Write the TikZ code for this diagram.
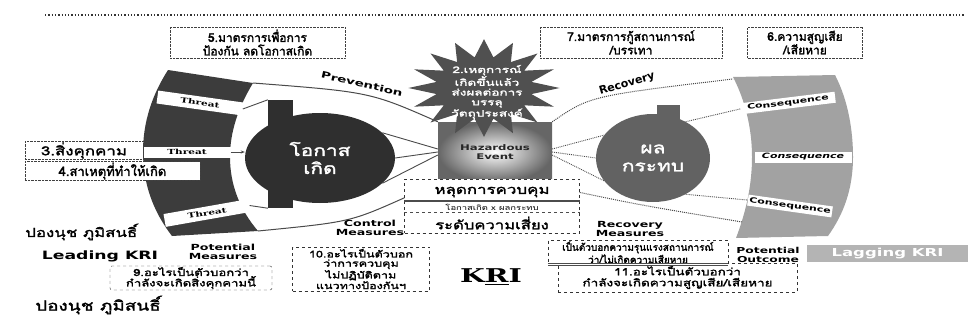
\documentclass[tikz,border=0pt]{standalone}
\usepackage{fontspec}
\setmainfont{DejaVu Sans}
\newfontfamily\thai[Script=Thai, BoldFont={Loma}, BoldFeatures={FakeBold=2}]{Loma}
\newfontfamily\thaiwide[Script=Thai, FakeStretch=1.35, BoldFont={Loma}, BoldFeatures={FakeBold=2}]{Loma}
\newfontfamily\thaistar[Script=Thai, FakeStretch=1.5, BoldFont={Loma}, BoldFeatures={FakeBold=2}]{Loma}
\newfontfamily\latwide[FakeStretch=1.5]{DejaVu Sans}
\newfontfamily\kriwide[FakeStretch=1.5]{DejaVu Serif}
\usepackage{tikz}
\usetikzlibrary{shapes.geometric, arrows.meta, positioning, calc}
\definecolor{FanDark}{HTML}{3C3C3C}
\definecolor{FanLight}{HTML}{A2A2A2}
\definecolor{OvalDark}{HTML}{2F2F2F}
\definecolor{OvalMid}{HTML}{626262}
\definecolor{StarGray}{HTML}{505050}
\definecolor{LineGray}{HTML}{4A4A4A}
\definecolor{LagGray}{HTML}{B4B4B4}
\tikzset{
  thaibox/.style={rectangle, draw=black!75, densely dotted, fill=white, inner sep=1pt, font=\thai\bfseries\fontsize{12}{13.5}\selectfont, align=center},
  notebox/.style={rectangle, draw=black!80, dashed, fill=white, inner sep=1pt, font=\thaiwide\bfseries\fontsize{9.7}{10.5}\selectfont, align=center},
  threatbar/.style={rectangle, fill=white, minimum height=13pt, inner sep=0pt, font=\kriwide\bfseries\fontsize{7}{7.5}\selectfont},
  consbar/.style={rectangle, fill=white, minimum height=11pt, inner sep=0pt, font=\latwide\bfseries\fontsize{7.3}{7.5}\selectfont},
  ovalnode/.style={ellipse, inner sep=0pt, text=white, font=\thaiwide\bfseries\fontsize{15.5}{18}\selectfont, align=center},
  notchbox/.style={rectangle, inner sep=0pt},
  hazardbox/.style={rectangle, inner color=white, outer color=black!60, inner sep=0pt, font=\latwide\bfseries\fontsize{7.8}{9}\selectfont, text=black!85, align=center},
  measurelabel/.style={font=\latwide\bfseries\fontsize{8.4}{9}\selectfont, align=center, inner sep=0pt},
  pathlabel/.style={font=\latwide\bfseries\fontsize{9}{9.5}\selectfont, inner sep=0pt},
  namelabel/.style={font=\thaiwide\bfseries\fontsize{12.5}{13}\selectfont, inner sep=0pt, anchor=west},
  bowline/.style={draw=LineGray, line width=1pt},
  linkline/.style={draw=LineGray, line width=0.9pt}
}

\begin{document}
\begin{tikzpicture}[x=1pt, y=-1pt]
  \useasboundingbox (0,0) rectangle (969,324);

  % objective line at the top
  \draw[dotted, line width=1.3pt, black!80] (45,15) -- (965,15);

  % the two fans
  \fill[FanDark] (168,70) -- (253,83) .. controls (238,108) and (230,132) .. (230,157)
    .. controls (230,185) and (240,210) .. (258,231) -- (172,236)
    .. controls (152,210) and (143,182) .. (143,152) .. controls (143,122) and (152,95) .. (168,70) -- cycle;
  \fill[FanLight] (733,77) -- (835,75) .. controls (848,100) and (853,130) .. (853,157)
    .. controls (853,190) and (843,215) .. (828,236) -- (736,238)
    .. controls (746,212) and (752,185) .. (752,157) .. controls (752,128) and (745,100) .. (733,77) -- cycle;
  \coordinate (lfTop) at (253,83);
  \coordinate (lfBot) at (258,231);
  \coordinate (rfTop) at (733,79);
  \coordinate (rfBot) at (742,222);

  % centre: hazard and the control box
  \node[hazardbox, minimum width=114pt, minimum height=60pt] (hazard) at (495,152) {Hazardous\\Event};
  \node[rectangle, draw=black!80, dashed, fill=white, minimum width=175pt, minimum height=54pt, inner sep=0pt] (lossbox) at (492,206) {};
  \node[font=\thaiwide\bfseries\fontsize{12.5}{13}\selectfont] (losstxt) at (492,192) {หลุดการควบคุม};
  \node[font=\thaiwide\fontsize{7}{7.5}\selectfont] (lossnote) at (492,207) {โอกาสเกิด x ผลกระทบ};
  \node[font=\thaiwide\bfseries\fontsize{12.3}{13}\selectfont] (risklvl) at (492,223) {ระดับความเสี่ยง};
  \draw[black!70, line width=1.2pt] (lossbox.west |- 0,201) -- (lossbox.east |- 0,201);
  \draw[black!70, dashed] (lossbox.west |- 0,212.5) -- (lossbox.east |- 0,212.5);

  % bow outline
  \draw[bowline] (lfTop) .. controls (370,92) .. (hazard.north west);
  \draw[bowline] (lfBot) .. controls (350,222) .. ($(lossbox.north west)!0.35!(lossbox.south west)$);
  \draw[bowline, densely dotted] (hazard.north east) .. controls (590,96) .. (rfTop);
  \draw[bowline, densely dotted] ($(lossbox.north east)!0.25!(lossbox.south east)$) .. controls (640,205) .. (rfBot);
  \node[pathlabel, rotate=-13] (prevlbl) at (362,84) {Prevention};
  \node[pathlabel, font=\bfseries\fontsize{11}{11}\selectfont, rotate=16] (reclbl) at (627,84) {Recovery};

  % hazardous event star
  \fill[StarGray] plot[domain=0:31, samples=32, variable=\k]
    ({484+62*(1+0.22*cos(\k*180))*cos(\k*360/32)}, {88+40*(1+0.22*cos(\k*180))*sin(\k*360/32)}) -- cycle;
  \node[font=\thaistar\bfseries\fontsize{9}{9.8}\selectfont, text=white, align=center] (event) at (487,92)
    {2.เหตุการณ์\\เกิดขึ้นแล้ว\\ส่งผลต่อการ\\บรรลุ\\วัตถุประสงค์};

  % likelihood and impact
  \node[notchbox, fill=OvalDark, minimum width=25pt, minimum height=108pt] (lnotch) at (280.5,154) {};
  \node[notchbox, fill=OvalMid, minimum width=23pt, minimum height=92pt] (rnotch) at (668.5,151) {};
  \node[ovalnode, fill=OvalDark, minimum width=150pt, minimum height=90pt] (prob) at (320,158) {โอกาส\\เกิด};
  \node[ovalnode, fill=OvalMid, minimum width=114pt, minimum height=88pt] (impact) at (653,158) {ผล\\กระทบ};
  \draw[linkline] (prob.22) -- (hazard.177);
  \draw[linkline] (prob.east) -- (hazard.west);
  \draw[linkline] (prob.-22) -- (hazard.183);
  \draw[linkline, densely dotted] (hazard.3) -- (impact.155);
  \draw[linkline, densely dotted] (hazard.east) -- (impact.west);
  \draw[linkline, densely dotted] (hazard.-3) -- (impact.-155);

  % threats
  \node[threatbar, minimum width=86pt, rotate=-8] (th1) at (200,103) {Threat};
  \node[threatbar, minimum width=87pt, minimum height=11pt] (th2) at (187,152) {Threat};
  \node[threatbar, minimum width=86pt, rotate=10] (th3) at (207,213) {Threat};
  \draw[linkline] (th1.east) -- (lnotch.north west);
  \draw[linkline, -{Stealth[length=4pt]}] (th2.east) -- (th2.east -| prob.west);
  \draw[linkline] (th3.east) -- (lnotch.south west);

  % consequences
  \node[consbar, minimum width=95pt, rotate=7] (cq1) at (788,103) {Consequence};
  \node[consbar, minimum width=97pt, font=\latwide\bfseries\itshape\fontsize{7.3}{7.5}\selectfont] (cq2) at (803,157) {Consequence};
  \node[consbar, minimum width=85pt, rotate=-8] (cq3) at (790,206) {Consequence};
  \draw[linkline, densely dotted] (impact.48) -- (cq1.west);
  \draw[linkline, densely dotted] (impact.-48) -- (cq3.west);

  % numbered boxes
  \node[thaibox, minimum width=175pt, minimum height=31pt] (box5) at (257.5,42.5) {5.มาตรการเพื่อการ\\ป้องกัน ลดโอกาสเกิด};
  \node[thaibox, minimum width=182pt, minimum height=31pt] (box7) at (631,42.5) {7.มาตรการกู้สถานการณ์\\/บรรเทา};
  \node[thaibox, minimum width=115pt, minimum height=31pt] (box6) at (805,42.5) {6.ความสูญเสีย\\/เสียหาย};
  \node[thaibox, minimum width=118pt, minimum height=15pt, font=\thaiwide\bfseries\fontsize{12.5}{13}\selectfont] (box3) at (84,150.5) {3.สิ่งคุกคาม};
  \node[thaibox, minimum width=175pt, minimum height=18pt, font=\thai\bfseries\fontsize{13}{14}\selectfont] (box4) at (112.5,171) {4.สาเหตุที่ทำให้เกิด};

  % KRI row
  \node[namelabel] (name1) at (25,232) {ปองนุช ภูมิสนธิ์};
  \node[font=\latwide\bfseries\fontsize{11.5}{12}\selectfont, inner sep=0pt] (leadkri) at (100,256) {Leading KRI};
  \node[measurelabel] (potmeas) at (223,252) {Potential\\Measures};
  \node[notebox, rounded corners=2pt, minimum width=162pt, minimum height=24pt] (box9) at (191,278) {9.อะไรเป็นตัวบอกว่า\\กำลังจะเกิดสิ่งคุกคามนี้};
  \node[namelabel, font=\thaiwide\bfseries\fontsize{14}{15}\selectfont] (name2) at (35,305) {ปองนุช ภูมิสนธิ์};
  \node[measurelabel] (ctrlmeas) at (370,228) {Control\\Measures};
  \node[notebox, minimum width=137pt, minimum height=44pt, font=\thaiwide\bfseries\fontsize{9.3}{9.2}\selectfont] (box10) at (361,269)
    {10.อะไรเป็นตัวบอก\\ว่าการควบคุม\\ไม่ปฏิบัติตาม\\แนวทางป้องกันฯ};
  \node[font=\kriwide\bfseries\fontsize{19}{20}\selectfont, inner sep=0pt] (kri) at (491,277) {K\underline{R}I};
  \node[measurelabel] (recmeas) at (630,229) {Recovery\\Measures};
  \node[notebox, minimum width=180pt, minimum height=21pt, font=\thai\bfseries\fontsize{10}{10}\selectfont] (box12) at (638,252.5) {เป็นตัวบอกความรุนแรงสถานการณ์\\ว่า/ไม่เกิดความเสียหาย};
  \node[notebox, minimum width=239pt, minimum height=29pt, font=\thaiwide\bfseries\fontsize{10}{11}\selectfont] (box11) at (677.5,277.5) {11.อะไรเป็นตัวบอกว่า\\กำลังจะเกิดความสูญเสีย/เสียหาย};
  \draw[black!70, line width=1pt, double] (box12.south west) -- (box12.south east);
  \node[measurelabel, font=\latwide\bfseries\fontsize{8.2}{9}\selectfont] (potout) at (768,255) {Potential\\Outcome};
  \node[rectangle, fill=LagGray, minimum width=161pt, minimum height=17pt, inner sep=0pt, text=white, font=\latwide\bfseries\fontsize{11}{12}\selectfont] (lagkri) at (887.5,253.5) {Lagging KRI};
\end{tikzpicture}
\end{document}
